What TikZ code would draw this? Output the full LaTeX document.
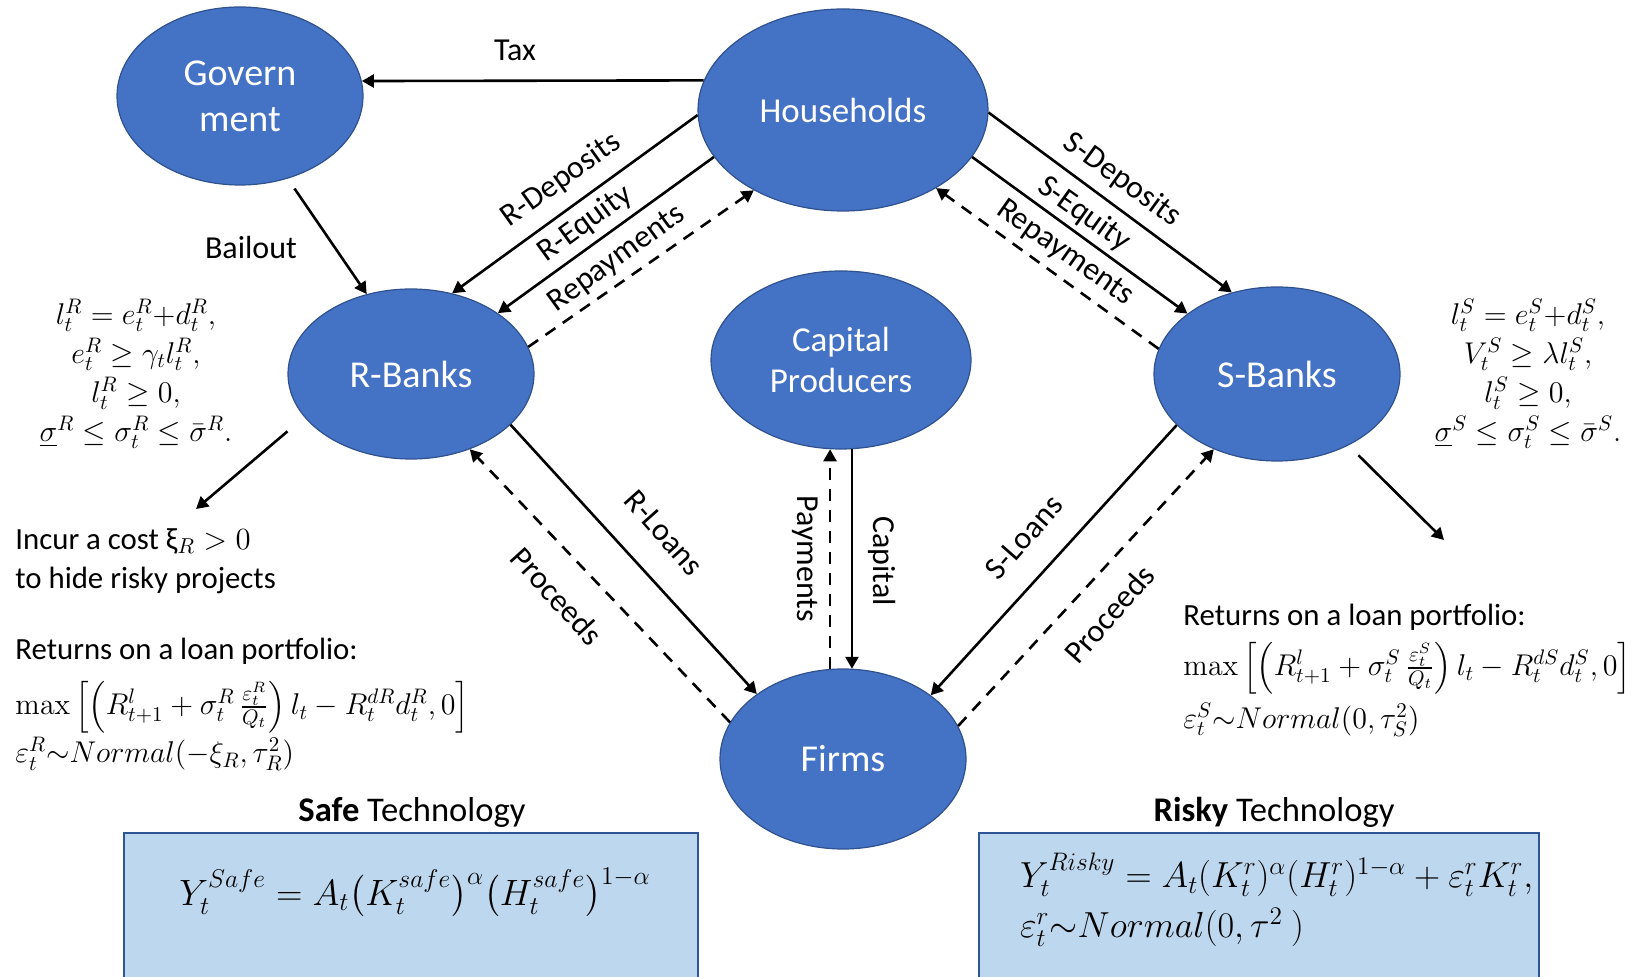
\RequirePackage{fix-cm}
\documentclass[tikz,border=0pt]{standalone}
\usepackage{amsmath}
\usepackage[no-math]{fontspec}
\setmainfont{Carlito}
\usetikzlibrary{arrows.meta,shapes.geometric}

\definecolor{agentblue}{RGB}{68,114,196}
\definecolor{agentline}{RGB}{47,82,143}
\definecolor{techfill}{RGB}{189,215,238}
\definecolor{techline}{RGB}{47,85,151}

\tikzset{
	agent/.style={ellipse, fill=agentblue, draw=agentline, line width=0.6pt,
		text=white, inner sep=0pt, align=center},
	flow/.style={line width=1.3pt, -{Triangle[length=6pt,width=6.5pt]}},
	pay/.style={flow, dash pattern=on 6pt off 4.5pt},
	lbl/.style={font=\fontsize{16}{19}\selectfont, inner sep=0pt},
	note/.style={font=\fontsize{15.4}{19.5}\selectfont, inner sep=0pt},
	mathnote/.style={font=\fontsize{15}{19.5}\selectfont, inner sep=0pt},
	techbox/.style={fill=techfill, draw=techline, line width=0.8pt},
}

\begin{document}
\begin{tikzpicture}[x=0.5pt, y=-0.5pt]
	\useasboundingbox (0,0) rectangle (1637,977);

	% Agents
	\node[agent, minimum width=123pt, minimum height=89pt, font=\fontsize{19}{23}\selectfont] (gov) at (240,96) {Govern\\ment};
	\node[agent, minimum width=145pt, minimum height=101pt, font=\fontsize{17.5}{21}\selectfont] (hh) at (843,110) {Households};
	\node[agent, minimum width=123pt, minimum height=85pt, font=\fontsize{19}{23}\selectfont] (rb) at (411,374) {R-Banks};
	\node[agent, minimum width=130pt, minimum height=89pt, font=\fontsize{17.5}{20.5}\selectfont] (cp) at (841,360) {Capital\\Producers};
	\node[agent, minimum width=123pt, minimum height=87pt, font=\fontsize{19}{23}\selectfont] (sb) at (1277,374) {S-Banks};
	\node[agent, minimum width=123pt, minimum height=90pt, font=\fontsize{19}{23}\selectfont] (firms) at (843,759) {Firms};

	\coordinate[](costend) at (196,509);
	\coordinate[](sbend) at (1444,540);

	% Flows
	\draw[flow] (hh.168) -- (gov.7);
	\draw[flow, shorten <=6pt] (gov.300) -- (rb.119);
	\draw[flow] (hh.182) -- (rb.63);
	\draw[flow] (hh.200) -- (rb.35);
	\draw[pay] (rb.13) -- (hh.222);
	\draw[flow] (hh.-1) -- (sb.119);
	\draw[flow] (hh.-20) -- (sb.146);
	\draw[pay] (sb.168) -- (hh.-40);
	\draw[flow] (rb.333) -- (firms.143);
	\draw[pay] (firms.162) -- (rb.308);
	\draw[pay] (cp.263 |- firms.97) -- (cp.263);
	\draw[flow] (cp.277) -- (cp.277 |- firms.83);
	\draw[flow] (sb.207) -- (firms.36);
	\draw[pay] (firms.16) -- (sb.230);
	\draw[flow, shorten <=11pt] (rb.202) -- (costend);
	\draw[flow, shorten <=7pt] (sb.-45) -- (sbend);

	% Flow labels
	\node[lbl] (ltax) at (515,50) {Tax};
	\node[lbl] (lbail) at (251,248) {Bailout};
	\node[lbl, rotate=35.6] (lrdep) at (561,180) {R-Deposits};
	\node[lbl, rotate=36] (lreq) at (585,224) {R-Equity};
	\node[lbl, rotate=36] (lrrep) at (617,259) {Repayments};
	\node[lbl, rotate=-36] (lsdep) at (1122,180) {S-Deposits};
	\node[lbl, rotate=-35.5] (lseq) at (1084,214) {S-Equity};
	\node[lbl, rotate=-35.2] (lsrep) at (1065,253) {Repayments};
	\node[lbl, rotate=-48.4] (lrloan) at (664,533) {R-Loans};
	\node[lbl, rotate=-47.7] (lrproc) at (557,596) {Proceeds};
	\node[lbl, rotate=-90] (lpaym) at (805,559) {Payments};
	\node[lbl, rotate=-90] (lcap) at (882,561) {Capital};
	\node[lbl, rotate=48.7] (lsloan) at (1024,537) {S-Loans};
	\node[lbl, rotate=48.7] (lsproc) at (1109,614) {Proceeds};

	% Constraints
	\node[mathnote, align=center] (rcons) at (136,374) {%
		$l^R_t = e^R_t{+}d^R_t,$\\
		$e^R_t \geq \gamma_t l^R_t,$\\
		$l^R_t \geq 0,$\\
		$\underline{\sigma}^R \leq \sigma^R_t \leq \bar{\sigma}^R.$};
	\node[mathnote, align=center] (scons) at (1528,374) {%
		$l^S_t = e^S_t{+}d^S_t,$\\
		$V^S_t \geq \lambda l^S_t,$\\
		$l^S_t \geq 0,$\\
		$\underline{\sigma}^S \leq \sigma^S_t \leq \bar{\sigma}^S.$};

	\node[note, align=left, anchor=west] (cost) at (15,561) {Incur a cost ξ$_R > 0$\\to hide risky projects};

	% Returns
	\node[note, anchor=west] (rret) at (15,651) {Returns on a loan portfolio:};
	\node[mathnote, anchor=west] (rmax) at (15,707) {$\max\left[\left(R^{l}_{t+1}+\sigma^{R}_{t}\,\frac{\varepsilon^{R}_{t}}{Q_t}\right)l_t-R^{dR}_{t}d^{R}_{t},0\right]$};
	\node[mathnote, anchor=west] (reps) at (15,754) {$\varepsilon^R_t{\sim}Normal(-\xi_R,\tau_R^2)$};
	\node[note, anchor=west] (sret) at (1183,617) {Returns on a loan portfolio:};
	\node[mathnote, anchor=west] (smax) at (1183,668) {$\max\left[\left(R^{l}_{t+1}+\sigma^{S}_{t}\,\frac{\varepsilon^{S}_{t}}{Q_t}\right)l_t-R^{dS}_{t}d^{S}_{t},0\right]$};
	\node[mathnote, anchor=west] (seps) at (1183,720) {$\varepsilon^S_t{\sim}Normal(0,\tau_S^2)$};

	% Technologies
	\draw[techbox] (124,833) rectangle (698,981);
	\draw[techbox] (979,833) rectangle (1539,981);
	\node[font=\fontsize{17.3}{20}\selectfont] (safett) at (412,812) {\textbf{Safe} Technology};
	\node[font=\fontsize{17.3}{20}\selectfont] (riskytt) at (1274,812) {\textbf{Risky} Technology};
	\node[font=\fontsize{18.3}{21}\selectfont] (safeeq) at (415,893) {$Y^{Safe}_t = A_t\big(K^{safe}_t\big)^{\alpha}\big(H^{safe}_t\big)^{1-\alpha}$};
	\node[font=\fontsize{18.1}{20}\selectfont, anchor=west] (riskyeq) at (1013,875) {$Y^{Risky}_t = A_t(K^r_t)^{\alpha}(H^r_t)^{1-\alpha}+\varepsilon^r_t K^r_t,$};
	\node[font=\fontsize{18.1}{20}\selectfont, anchor=west] (riskyeps) at (1013,927) {$\varepsilon^r_t{\sim}Normal(0,\tau^2\ )$};

\end{tikzpicture}
\end{document}
